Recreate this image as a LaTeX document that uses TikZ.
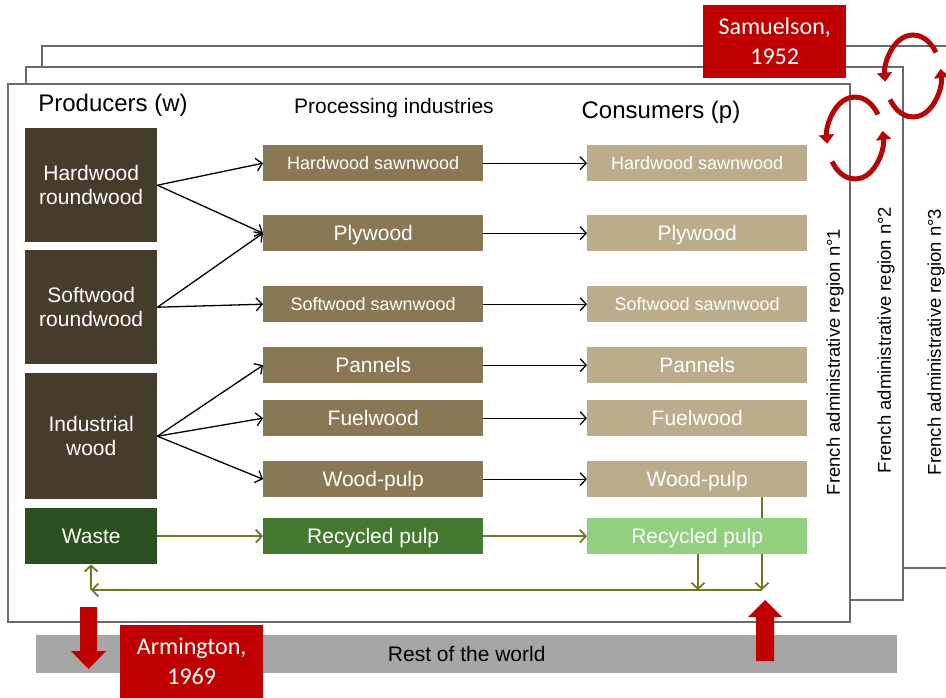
\documentclass[tikz,border=0pt]{standalone}
\usepackage{fontspec}
\setmainfont{Liberation Sans}
\newfontfamily\calibrifont{Carlito}
\usepackage{tikz}
\usetikzlibrary{arrows.meta,calc,positioning}
\definecolor{prodbrown}{RGB}{71,60,44}
\definecolor{procbrown}{RGB}{137,120,83}
\definecolor{consbrown}{RGB}{187,172,140}
\definecolor{wastegreen}{RGB}{45,80,32}
\definecolor{procgreen}{RGB}{67,122,48}
\definecolor{consgreen}{RGB}{146,208,128}
\definecolor{flowgreen}{RGB}{108,122,36}
\definecolor{citered}{RGB}{192,0,0}
\definecolor{loopred}{RGB}{178,8,8}
\definecolor{worldgray}{RGB}{166,166,166}
\definecolor{framegray}{RGB}{105,105,105}

\begin{document}
\begin{tikzpicture}[
    x=1pt, y=-1pt,
    box/.style={rectangle, inner sep=0, text=white, align=center, anchor=north west,
        font=\fontsize{21}{24}\selectfont},
    prod/.style={box, fill=prodbrown, minimum width=132pt},
    proc/.style={box, fill=procbrown, minimum width=220pt, minimum height=36pt, text height=15pt, text depth=0pt},
    cons/.style={box, fill=consbrown, minimum width=220pt, minimum height=36pt, text height=15pt, text depth=0pt},
    small/.style={font=\fontsize{18}{20}\selectfont, text height=13pt},
    cite/.style={rectangle, inner sep=0, fill=citered, text=white, align=center, anchor=north west,
        minimum width=143pt, minimum height=73pt, font=\calibrifont\fontsize{24}{30}\selectfont},
    flow/.style={-{Straight Barb[length=6pt,width=13pt]}, line width=1.3pt},
    gflow/.style={flow, draw=flowgreen, line width=1.8pt},
    region/.style={rotate=90, inner sep=0, font=\fontsize{18.5}{20}\selectfont},
    head/.style={inner sep=0, font=\fontsize{24}{26}\selectfont}
]
\useasboundingbox (0,0) rectangle (946,698);

% stacked regions
\draw[framegray, line width=1.2pt] (42,46) rectangle (960,568);
\draw[framegray, fill=white, line width=1.2pt] (26,67) rectangle (903,600);
\draw[framegray, fill=white, line width=1.2pt] (8,84) rectangle (850,622);

\node[cite] (samuelson) at (703,5) {Samuelson,\\1952};

% loops between regions
\foreach \cx/\cy in {855/138, 913/76} {
    \draw[loopred, line width=5pt, -{Triangle[length=9pt,width=15pt]}]
        ($(\cx,\cy)+(-35:28 and 41)$) arc[start angle=-35, end angle=-188, x radius=28, y radius=41];
    \draw[loopred, line width=5pt, -{Triangle[length=9pt,width=15pt]}]
        ($(\cx,\cy)+(145:28 and 41)$) arc[start angle=145, end angle=-10, x radius=28, y radius=41];
}

% headers
\node[head] (producers) at (113,105) {Producers (w)};
\node[inner sep=0, font=\fontsize{21}{23}\selectfont] (processing) at (394,108) {Processing industries};
\node[head] (consumers) at (661,112) {Consumers (p)};

% producers
\node[prod, minimum height=114pt] (hwr) at (25,128) {Hardwood\\roundwood};
\node[prod, minimum height=114pt] (swr) at (25,250) {Softwood\\roundwood};
\node[prod, minimum height=126pt] (iw) at (25,373) {Industrial\\wood};
\node[prod, fill=wastegreen, minimum height=56pt] (waste) at (25,508) {Waste};

% processing industries
\node[proc, small] (p-hws) at (263,145) {Hardwood sawnwood};
\node[proc] (p-ply) at (263,215) {Plywood};
\node[proc, small] (p-sws) at (263,286) {Softwood sawnwood};
\node[proc] (p-pan) at (263,347) {Pannels};
\node[proc] (p-fuel) at (263,400) {Fuelwood};
\node[proc] (p-pulp) at (263,461) {Wood-pulp};
\node[proc, fill=procgreen] (p-rec) at (263,518) {Recycled pulp};

% consumers
\node[cons, small] (c-hws) at (587,145) {Hardwood sawnwood};
\node[cons] (c-ply) at (587,215) {Plywood};
\node[cons, small] (c-sws) at (587,286) {Softwood sawnwood};
\node[cons] (c-pan) at (587,347) {Pannels};
\node[cons] (c-fuel) at (587,400) {Fuelwood};
\node[cons] (c-pulp) at (587,461) {Wood-pulp};
\node[cons, fill=consgreen] (c-rec) at (587,518) {Recycled pulp};

\draw[flow] (hwr.east) -- (p-hws.west);
\draw[flow] (hwr.east) -- (p-ply.west);
\draw[flow] (swr.east) -- (p-ply.west);
\draw[flow] (swr.east) -- (p-sws.west);
\draw[flow] (iw.east) -- (p-pan.west);
\draw[flow] (iw.east) -- (p-fuel.west);
\draw[flow] (iw.east) -- (p-pulp.west);

\foreach \n in {hws,ply,sws,pan,fuel,pulp}
    \draw[flow] (p-\n.east) -- (c-\n.west);

% recycling loop
\coordinate (jr) at (762,590);
\coordinate (jl) at (698,590);
\coordinate (jw) at (91,590);
\draw[gflow] (waste.east) -- (p-rec.west);
\draw[gflow] (p-rec.east) -- (c-rec.west);
\draw[flowgreen, line width=1.8pt] (c-pulp.south -| jr) -- (c-rec.north -| jr);
\draw[gflow] (c-rec.south -| jr) -- (jr);
\draw[gflow] (c-rec.south -| jl) -- (jl);
\draw[gflow] (jr) -- (jw);
\draw[gflow] (jw) -- (waste.south -| jw);

% regions
\node[region] (reg1) at (835,362) {French administrative region n°1};
\node[region] (reg2) at (886,340) {French administrative region n°2};
\node[region] (reg3) at (936,342) {French administrative region n°3};

% rest of the world
\node[rectangle, inner sep=0, fill=worldgray, anchor=north west, minimum width=861pt, minimum height=38pt,
    font=\fontsize{21}{23}\selectfont] (world) at (36,635) {Rest of the world};
\node[cite] (armington) at (120,625) {Armington,\\1969};
\fill[citered] (80,607) -- (97,607) -- (97,651) -- (106,651) -- (88.5,669) -- (71,651) -- (80,651) -- cycle;
\fill[citered] (756,661) -- (774,661) -- (774,617) -- (782,617) -- (765,600) -- (748,617) -- (756,617) -- cycle;

\end{tikzpicture}
\end{document}
